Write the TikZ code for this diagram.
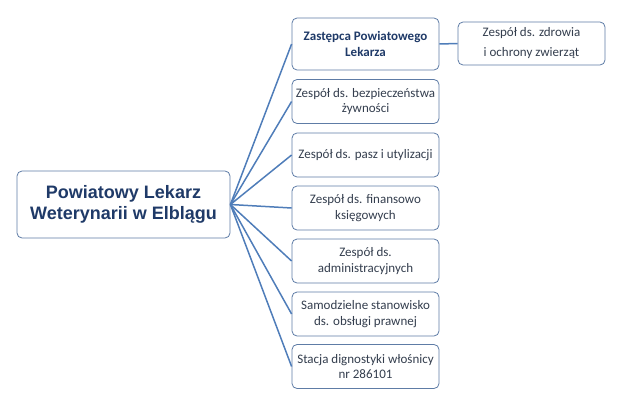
\documentclass[tikz,border=0pt]{standalone}
\usepackage{fontspec}
\setmainfont{Carlito}
\newfontfamily\rootfont{Liberation Sans}
\definecolor{boxline}{RGB}{94,124,166}
\definecolor{edgeline}{RGB}{79,125,185}
\definecolor{boxtext}{RGB}{52,62,78}
\definecolor{rootblue}{RGB}{31,58,104}
\begin{document}
\begin{tikzpicture}[x=1pt,y=-1pt,
  main node/.style={rectangle,rounded corners=5pt,draw=boxline,fill=white,
  line width=0.8pt,text=boxtext,align=center,inner sep=1pt,
  font=\fontsize{13}{15.5}\selectfont,minimum width=147pt,minimum height=44pt},
  root node/.style={main node,text=rootblue,minimum width=213pt,minimum height=67pt,
  font=\rootfont\bfseries\fontsize{18}{21}\selectfont}]

  \useasboundingbox (0,0) rectangle (617,404);

  \node[root node] (plw) at (123.5,204.5) {Powiatowy Lekarz\\Weterynarii w Elblągu};
  \node[main node,minimum height=52pt,text=rootblue,font=\bfseries\fontsize{13}{15.5}\selectfont] (zpl) at (365.5,44) {Zastępca Powiatowego\\Lekarza};
  \node[main node,minimum height=43pt,font=\fontsize{13}{20}\selectfont] (zoz) at (531.5,43.5) {Zespół ds. zdrowia\\i ochrony zwierząt};
  \node[main node] (zbz) at (365.5,101.5) {Zespół ds. bezpieczeństwa\\żywności};
  \node[main node] (zpu) at (365.5,155) {Zespół ds. pasz i utylizacji};
  \node[main node] (zfk) at (365.5,208) {Zespół ds. finansowo\\księgowych};
  \node[main node] (zad) at (365.5,261) {Zespół ds.\\administracyjnych};
  \node[main node] (ssp) at (365.5,314) {Samodzielne stanowisko\\ds. obsługi prawnej};
  \node[main node] (sdw) at (365.5,366.5) {Stacja dignostyki włośnicy\\nr 286101};

  \path[draw=edgeline,line width=1.5pt]
    (plw.east) edge (zpl.west)
               edge (zbz.west)
               edge (zpu.west)
               edge (zfk.west)
               edge (zad.west)
               edge (ssp.west)
               edge (sdw.west)
    (zpl.east) edge (zoz.west);
\end{tikzpicture}
\end{document}
